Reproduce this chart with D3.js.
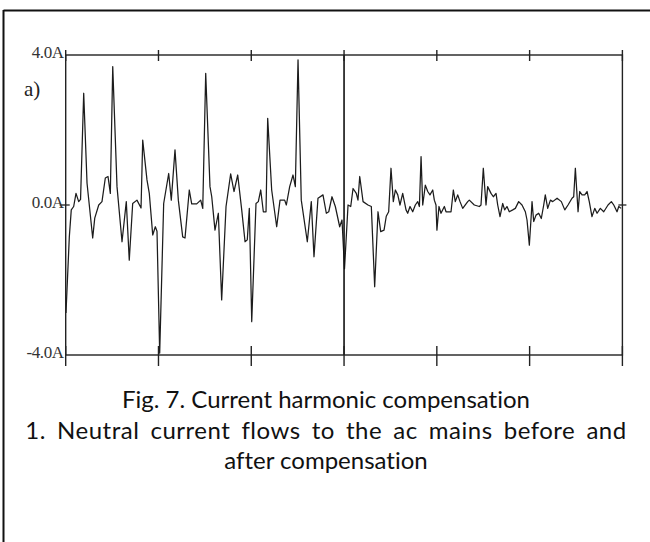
<!DOCTYPE html>
<html>
<head>
<meta charset="utf-8">
<script src="https://cdn.jsdelivr.net/npm/d3@7"></script>
<style>
  html, body { margin: 0; padding: 0; background: #fff; }
  svg { display: block; }
  .cap { font-variant-ligatures: none; font-feature-settings: "liga" 0, "clig" 0; }
</style>
</head>
<body>
<svg id="chart" width="650" height="542"></svg>
<script>
// ---- data (time in ms, current in A) ----
const timeMs = [0.03,0.39,0.60,0.86,1.11,1.40,1.60,1.94,2.30,2.91,3.13,3.56,3.91,4.27,4.56,4.81,5.07,5.53,6.07,6.53,
  6.85,7.22,7.68,8.12,8.30,8.76,9.01,9.38,9.66,9.84,10.13,10.56,11.10,11.38,11.78,12.14,12.61,12.86,13.32,13.58,
  14.12,14.55,14.77,15.09,15.55,15.74,16.09,16.45,16.81,17.28,17.78,18.14,18.54,18.97,19.33,19.57,19.79,20.05,20.51,20.76,
  21.02,21.30,21.59,21.77,22.20,22.74,23.10,23.60,23.78,24.14,24.50,24.75,25.04,25.39,26.04,26.47,26.76,27.19,27.73,28.09,
  28.35,28.70,29.06,29.53,29.78,30.05,30.43,30.72,30.97,31.32,31.50,31.69,32.05,32.58,32.94,33.30,33.66,33.95,34.31,34.55,
  34.81,35.06,35.31,35.53,35.79,36.03,36.32,36.68,36.86,37.11,37.40,37.68,37.94,38.12,38.30,38.48,38.76,39.02,39.26,39.56,
  39.73,39.91,40.01,40.23,40.45,40.81,40.99,41.53,41.78,41.99,42.25,42.50,42.79,43.33,43.50,44.04,44.58,44.76,45.01,45.30,
  45.48,45.84,46.09,46.38,46.56,46.81,47.10,47.31,47.56,47.81,48.18,48.46,48.82,49.18,49.54,49.72,49.97,50.19,50.26,50.44,
  50.69,50.98,51.26,51.52,51.69,51.95,52.24,52.49,52.96,53.42,53.79,54.14,54.57,54.75,54.93,55.22,55.40,55.65,55.94,56.19,
  56.43,56.72,57.02,57.27,57.62,57.99,58.45,58.81,59.07,59.42,59.61,59.86];
const currentA = [-2.88,-0.85,-0.13,-0.04,0.31,0.09,0.15,2.98,0.58,-0.88,-0.35,0.00,0.09,0.72,0.76,0.31,3.69,0.49,-0.98,0.09,
  -1.47,0.04,0.13,-0.08,1.73,0.67,0.31,-0.80,-0.58,-0.70,-3.95,0.04,0.84,0.13,1.47,0.13,-0.85,-0.88,0.40,0.03,
  0.03,0.13,-0.09,3.51,0.49,0.22,-0.67,-0.22,-2.53,-0.04,0.83,0.36,0.80,-0.13,-0.98,-0.93,-0.09,-3.11,0.04,0.09,
  0.40,-0.18,-0.18,2.31,0.40,-0.58,0.13,0.13,0.00,0.49,0.80,0.49,3.87,0.13,-0.98,0.09,-1.38,0.18,0.27,-0.22,
  -0.18,0.22,-0.04,-0.58,-0.40,-1.70,0.00,-0.04,0.44,0.31,0.13,0.76,0.09,0.00,-0.04,-2.18,-0.18,-0.71,-0.67,-0.30,
  -0.18,0.98,0.09,0.40,0.27,0.00,0.31,-0.13,-0.22,-0.04,-0.18,0.00,0.09,-0.04,1.29,0.00,0.53,0.36,0.27,0.40,
  0.13,0.00,-0.67,-0.04,-0.22,-0.04,-0.18,-0.18,0.40,0.09,0.27,0.09,-0.09,0.09,0.13,0.00,-0.04,0.00,0.98,0.00,
  0.49,0.31,0.22,0.31,0.00,-0.31,0.04,-0.13,-0.04,-0.18,-0.13,-0.09,0.09,0.00,-0.18,-0.40,-1.07,-0.22,0.09,-0.44,
  -0.27,-0.22,-0.36,0.00,0.27,-0.09,0.13,0.09,0.18,0.09,-0.13,0.00,0.18,0.22,0.98,-0.18,0.36,0.27,0.27,0.36,
  0.09,-0.31,-0.09,-0.22,-0.09,-0.18,0.00,0.09,0.00,-0.18,-0.04,-0.09];

const xTickValues = [0, 10, 20, 30, 40, 50, 60];
const yTickValues = [4, 0, -4];
const yTickLabels = ["4.0A", "0.0A", "-4.0A"];
const panelLabel = "a)";
const captionLines = [
  "Fig. 7. Current harmonic compensation",
  "1. Neutral current flows to the ac mains before and",
  "after compensation"
];

// ---- drawing ----
const svg = d3.select("#chart");
const x = d3.scaleLinear().domain([0, 60]).range([65.7, 622.4]);
const y = d3.scaleLinear().domain([-4, 4]).range([355, 55]);

// figure frame (top & left visible)
svg.append("line").attr("x1", 3.5).attr("x2", 650).attr("y1", 10.5).attr("y2", 10.5)
  .attr("stroke", "#111").attr("stroke-width", 2);
svg.append("line").attr("x1", 3.5).attr("x2", 3.5).attr("y1", 10).attr("y2", 542)
  .attr("stroke", "#111").attr("stroke-width", 2);

const g = svg.append("g");

// waveform
const pts = timeMs.map((t, i) => [t, currentA[i]]);
g.append("path")
  .datum(pts)
  .attr("fill", "none")
  .attr("stroke", "#1c1c1c")
  .attr("stroke-width", 1.25)
  .attr("stroke-linejoin", "round")
  .attr("d", d3.line().x(d => x(d[0])).y(d => y(d[1])));

// plot box
const x0 = x(0), x1 = x(60), yT = y(4), yB = y(-4);
g.append("rect").attr("x", x0).attr("y", yT).attr("width", x1 - x0).attr("height", yB - yT)
  .attr("fill", "none").attr("stroke", "#222").attr("stroke-width", 1.4);

// middle divider (compensation start)
g.append("line").attr("x1", x(30)).attr("x2", x(30)).attr("y1", yT).attr("y2", yB)
  .attr("stroke", "#111").attr("stroke-width", 1.6);

// x ticks top and bottom
g.selectAll(".tt").data(xTickValues).join("line")
  .attr("x1", d => x(d)).attr("x2", d => x(d))
  .attr("y1", yT - 5).attr("y2", yT + 6)
  .attr("stroke", "#222").attr("stroke-width", 1.4);
g.selectAll(".tb").data(xTickValues).join("line")
  .attr("x1", d => x(d)).attr("x2", d => x(d))
  .attr("y1", yB - 9).attr("y2", yB + 11)
  .attr("stroke", "#222").attr("stroke-width", 1.4);

// zero ticks left & right
g.append("line").attr("x1", x0 - 6).attr("x2", x0 + 4).attr("y1", y(0)).attr("y2", y(0))
  .attr("stroke", "#222").attr("stroke-width", 1.3);
g.append("line").attr("x1", x1 - 4).attr("x2", x1 + 4).attr("y1", y(0)).attr("y2", y(0))
  .attr("stroke", "#222").attr("stroke-width", 1.3);

// y labels
g.selectAll(".yl").data(yTickValues).join("text")
  .attr("x", x0 - 2)
  .attr("y", d => y(d) + 3)
  .attr("text-anchor", "end")
  .attr("font-family", "'Liberation Serif', 'DejaVu Serif', serif")
  .attr("font-size", 17)
  .attr("fill", "#333")
  .attr("letter-spacing", -0.4)
  .text((d, i) => yTickLabels[i]);

// panel label
g.append("text").attr("x", 24).attr("y", 96)
  .attr("font-family", "'Liberation Serif', 'DejaVu Serif', serif")
  .attr("font-size", 21).attr("fill", "#222")
  .text(panelLabel);

// caption
const capY = [408, 439, 469];
const capWordSpacing = [0, 4.5, 0];
const capLetterSpacing = [0, 0.5, 0];
svg.selectAll(".cap").data(captionLines).join("text")
  .attr("class", "cap")
  .attr("x", 326)
  .attr("y", (d, i) => capY[i])
  .attr("text-anchor", "middle")
  .attr("font-family", "Lato, 'Open Sans', sans-serif")
  .attr("font-size", 24)
  .attr("word-spacing", (d, i) => capWordSpacing[i])
  .attr("letter-spacing", (d, i) => capLetterSpacing[i])
  .attr("fill", "#111")
  .text(d => d);
</script>
</body>
</html>
